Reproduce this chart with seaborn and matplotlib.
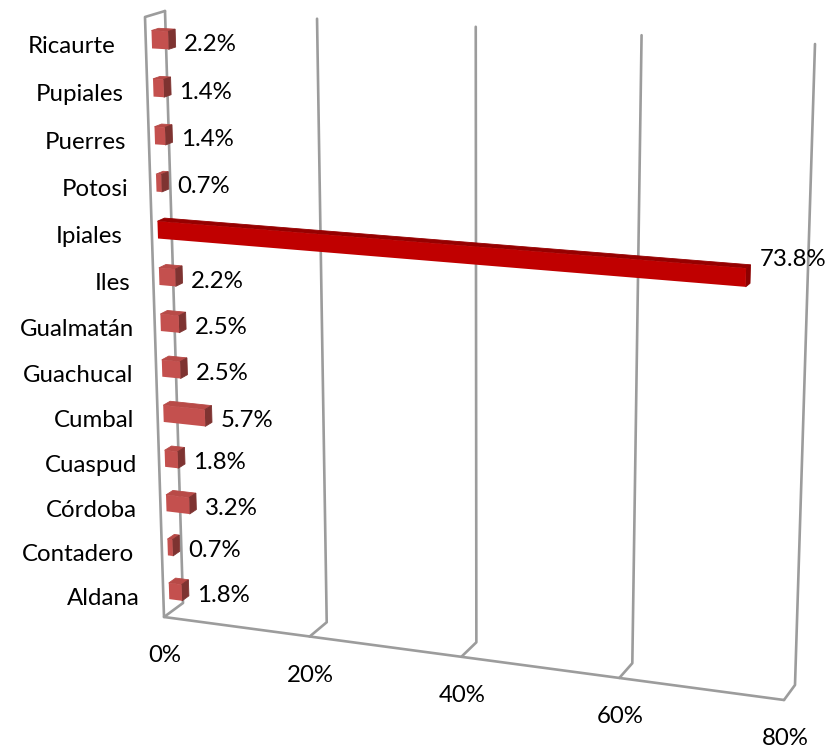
import matplotlib
matplotlib.use('Agg')
import matplotlib.pyplot as plt
import numpy as np
import pandas as pd
import seaborn as sns
from matplotlib.patches import Polygon
from matplotlib.transforms import Transform

municipios = ['Ricaurte', 'Pupiales', 'Puerres', 'Potosi', 'Ipiales', 'Iles', 'Gualmatán',
              'Guachucal', 'Cumbal', 'Cuaspud', 'Córdoba', 'Contadero', 'Aldana']
porcentajes = [2.2, 1.4, 1.4, 0.7, 73.8, 2.2, 2.5, 2.5, 5.7, 1.8, 3.2, 0.7, 1.8]
ticks = [0, 20, 40, 60, 80]

# right edge of each municipality label, in pixels (the labels follow the 3d wall)
label_right = [115, 123, 125, 127, 122, 130, 133, 132, 133, 136, 136, 133, 139]

# corners of the 3d box in pixels: (0, floor), (80, floor), (80, top), (0, top)
front_corners = [(164, 617), (784, 700), (803, 51), (145, 17)]
back_corners = [(183, 603), (795, 685), (815, 44), (165, 11)]
n_rows = len(municipios)
bar_front, bar_back = 0.30, 0.66


def homography(corners):
    src = [(0, 0), (80, 0), (80, n_rows), (0, n_rows)]
    a, b = [], []
    for (x, y), (u, v) in zip(src, corners):
        a.append([x, y, 1, 0, 0, 0, -u * x, -u * y])
        a.append([0, 0, 0, x, y, 1, -v * x, -v * y])
        b += [u, v]
    return np.append(np.linalg.solve(np.array(a, float), np.array(b, float)), 1).reshape(3, 3)


H_front = homography(front_corners)
H_back = homography(back_corners)


def apply_h(h, val, hgt):
    p = h @ np.vstack([val, hgt, np.ones_like(val)])
    return (p[:2] / p[2]).T


def project(val, row, depth=0.0):
    # row is the seaborn position: 0 at the top, n_rows - 1 at the bottom
    val = np.atleast_1d(np.asarray(val, float))
    hgt = n_rows - 0.5 - np.atleast_1d(np.asarray(row, float))
    return (1 - depth) * apply_h(H_front, val, hgt) + depth * apply_h(H_back, val, hgt)


class Perspective(Transform):
    input_dims = 2
    output_dims = 2
    is_affine = False

    def __init__(self, box_depth):
        super().__init__()
        self.box_depth = box_depth

    def transform_non_affine(self, values):
        values = np.asarray(values, float)
        return project(values[:, 0], values[:, 1], self.box_depth)


sns.set_theme(style='white')
plt.rcParams['font.family'] = ['Lato', 'DejaVu Sans']
font_size = 17.3

df = pd.DataFrame({'municipio': municipios, 'porcentaje': porcentajes})
front_colors = {m: '#C00000' if m == 'Ipiales' else '#C4504E' for m in municipios}

fig = plt.figure(figsize=(8.29, 7.49), dpi=100)
ax = fig.add_axes([0, 0, 1, 1])
sns.barplot(data=df, x='porcentaje', y='municipio', hue='municipio', order=municipios,
            palette=front_colors, saturation=1, width=0.37, legend=False, ax=ax)

# box lines
line_kw = dict(color='#9C9C9C', lw=1.9, zorder=1, solid_capstyle='round', solid_joinstyle='round')
for t in ticks:
    pts = np.vstack([project(t, n_rows - 0.5, 0), project(t, n_rows - 0.5, 1), project(t, -0.5, 1)])
    ax.plot(pts[:, 0], pts[:, 1], **line_kw)
pts = np.vstack([project(0, -0.5, 1), project(0, -0.5, 0), project(0, n_rows - 0.5, 0),
                 project(80, n_rows - 0.5, 0)])
ax.plot(pts[:, 0], pts[:, 1], **line_kw)

# bars: the seaborn rectangle is the front face, side and top are added on it
for bar in ax.patches[:]:
    x0, y0 = bar.get_x(), bar.get_y()
    x1, y1 = x0 + bar.get_width(), y0 + bar.get_height()
    i = int(round((y0 + y1) / 2))
    big = municipios[i] == 'Ipiales'
    bar.set_transform(Perspective(bar_front) + ax.transData)
    bar.set_edgecolor('none')
    bar.set_zorder(4)

    top_color = '#960000' if big else '#B84A47'
    side_color = '#8C0000' if big else '#7E3331'
    top = np.vstack([project(x0, y0, bar_front), project(x1, y0, bar_front),
                     project(x1, y0, bar_back), project(x0, y0, bar_back)])
    side = np.vstack([project(x1, y0, bar_front), project(x1, y1, bar_front),
                      project(x1, y1, bar_back), project(x1, y0, bar_back)])
    ax.add_patch(Polygon(top, closed=True, fc=top_color, ec=top_color, lw=0.6, zorder=3))
    ax.add_patch(Polygon(side, closed=True, fc=side_color, ec=side_color, lw=0.6, zorder=3))

    end = project(x1, i, (bar_front + bar_back) / 2)[0]
    dy = -16 if big else 5
    ax.text(end[0] + 12, end[1] + dy, f'{porcentajes[i]:.1f}%', fontsize=font_size, color='black',
            ha='left', va='center', zorder=6)

    mid = project(0, i, bar_front)[0]
    ax.text(label_right[i] + 1, mid[1] + 7, municipios[i], fontsize=font_size, color='black',
            ha='right', va='center', zorder=6)

for t in ticks:
    base = project(t, n_rows - 0.5, 0)[0]
    ax.text(base[0] + 1, base[1] + 38.5, f'{t}%', fontsize=font_size, color='black',
            ha='center', va='center', zorder=6)

ax.set_xlim(0, 829)
ax.set_ylim(749, 0)
ax.axis('off')

plt.savefig('out.png', dpi=100)
